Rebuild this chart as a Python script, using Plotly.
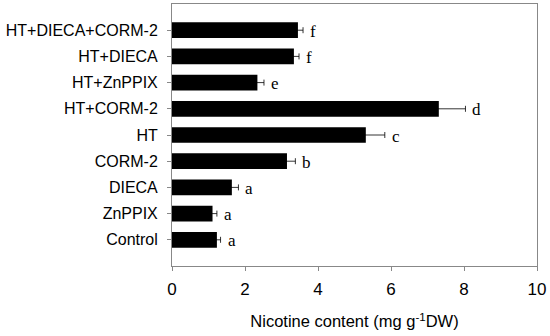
import plotly.graph_objects as go

categories = ["Control", "ZnPPIX", "DIECA", "CORM-2", "HT", "HT+CORM-2",
              "HT+ZnPPIX", "HT+DIECA", "HT+DIECA+CORM-2"]
values = [1.23, 1.11, 1.64, 3.15, 5.31, 7.31, 2.34, 3.34, 3.45]
errors = [0.10, 0.12, 0.18, 0.23, 0.52, 0.73, 0.18, 0.14, 0.14]
letters = ["a", "a", "a", "b", "c", "d", "e", "f", "f"]
x_ticks = [0, 2, 4, 6, 8, 10]

fig = go.Figure()
fig.add_trace(go.Bar(
    y=list(range(len(categories))), x=values, orientation="h",
    marker=dict(color="black", line=dict(width=0)),
    width=0.6,
    error_x=dict(type="data", array=errors, visible=True, color="black",
                 thickness=0.8, width=3),
))

for i, (v, e, l) in enumerate(zip(values, errors, letters)):
    fig.add_annotation(x=v + e, y=i, text=l, showarrow=False, xanchor="left",
                       xshift=5, yshift=-1,
                       font=dict(family="Liberation Serif", size=17, color="black"))

fig.update_layout(
    width=550, height=336,
    margin=dict(l=172, r=13, t=4, b=70, autoexpand=False),
    paper_bgcolor="white", plot_bgcolor="white",
    showlegend=False,
    font=dict(family="Liberation Sans", size=16, color="black"),
    xaxis=dict(range=[0, 10], tickvals=x_ticks, ticks="outside", ticklen=4,
               tickcolor="#888", showline=True, linecolor="#888", linewidth=1,
               mirror=True, showgrid=False, zeroline=False, automargin=False,
               tickfont=dict(size=17), ticklabelstandoff=4,
               title=dict(text="Nicotine content (mg g<sup>-1</sup>DW)",
                          font=dict(size=16.5), standoff=17)),
    yaxis=dict(range=[-1, 9], tickvals=list(range(len(categories))),
               ticktext=categories, ticks="outside", ticklen=4, tickcolor="#888",
               showline=True, linecolor="#888", linewidth=1, mirror=True,
               showgrid=False, zeroline=False, automargin=False,
               ticklabelstandoff=6, tickfont=dict(size=16)),
)

fig.write_html("out.html", config={"displayModeBar": False},
               post_script="document.body.style.margin='0';")
